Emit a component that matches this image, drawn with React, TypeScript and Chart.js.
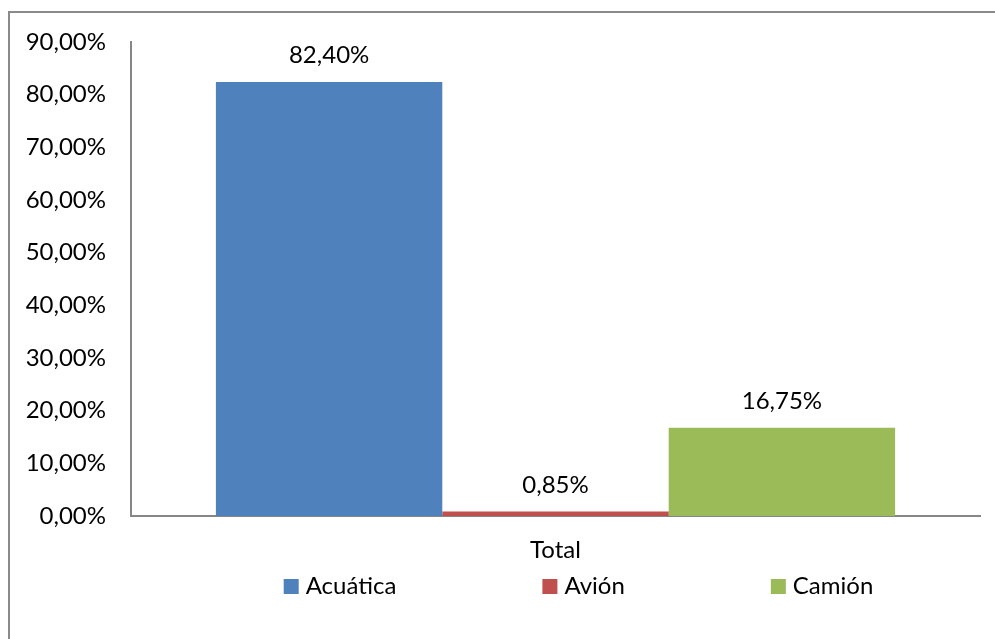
import React, { useEffect, useRef } from 'react';
import { Chart, registerables } from 'chart.js';

Chart.register(...registerables);

// ---- data ----
const categories = ['Total'];
const seriesNames = ['Acuática', 'Avión', 'Camión'];
const acuaticaValues = [82.4];
const avionValues = [0.85];
const camionValues = [16.75];
const seriesColors = ['#4F81BD', '#C0504D', '#9BBB59'];
const yMin = 0;
const yMax = 90;
const yStep = 10;

const FONT = "Lato, 'Noto Sans', sans-serif";
const FONT_SIZE = 24;
const AXIS_COLOR = '#868686';

const fmt = (v: number) => v.toFixed(2).replace('.', ',') + '%';

const valueLabelPlugin = {
  id: 'valueLabels',
  afterDatasetsDraw(chart: any) {
    const ctx = chart.ctx;
    ctx.save();
    ctx.font = `${FONT_SIZE}px ${FONT}`;
    ctx.fillStyle = '#000';
    ctx.textAlign = 'center';
    ctx.textBaseline = 'alphabetic';
    chart.data.datasets.forEach((ds: any, i: number) => {
      const meta = chart.getDatasetMeta(i);
      meta.data.forEach((el: any, j: number) => {
        const v = ds.data[j] as number;
        ctx.fillText(fmt(v), el.x, el.y - 19);
      });
    });
    ctx.restore();
  },
};

const customLegendPlugin = {
  id: 'customLegend',
  afterDraw(chart: any) {
    const ctx = chart.ctx;
    ctx.save();
    ctx.font = `${FONT_SIZE}px ${FONT}`;
    const box = 15;
    const textGap = 7;
    const itemGap = 146;
    const items = chart.data.datasets.map((ds: any) => {
      const tw = ctx.measureText(ds.label).width;
      return { text: ds.label, color: ds.backgroundColor, tw, w: box + textGap + tw };
    });
    const total =
      items.reduce((s: number, it: any) => s + it.w, 0) + itemGap * (items.length - 1);
    let x = chart.width / 2 - total / 2;
    const baseline = chart.chartArea.bottom + 78;
    ctx.textAlign = 'left';
    ctx.textBaseline = 'alphabetic';
    items.forEach((it: any) => {
      ctx.fillStyle = it.color;
      ctx.fillRect(x, baseline - box, box, box);
      ctx.fillStyle = '#000';
      ctx.fillText(it.text, x + box + textGap, baseline);
      x += it.w + itemGap;
    });
    ctx.restore();
  },
};

export default function App() {
  const ref = useRef<HTMLCanvasElement>(null);

  useEffect(() => {
    if (!ref.current) return;
    const seriesData = [acuaticaValues, avionValues, camionValues];
    const chart = new Chart(ref.current, {
      type: 'bar',
      data: {
        labels: categories,
        datasets: seriesNames.map((name, i) => ({
          label: name,
          data: seriesData[i],
          backgroundColor: seriesColors[i],
          borderWidth: 0,
          categoryPercentage: 0.8,
          barPercentage: 1,
        })),
      },
      options: {
        responsive: false,
        maintainAspectRatio: false,
        animation: false,
        layout: { padding: { left: 0, right: 167, top: 29, bottom: 137 } },
        plugins: {
          legend: { display: false },
          tooltip: { enabled: false },
          title: { display: false },
        },
        scales: {
          x: {
            grid: { display: false, drawTicks: false },
            border: { display: true, color: AXIS_COLOR, width: 2 },
            ticks: {
              color: '#000',
              font: { family: FONT, size: FONT_SIZE },
              padding: 20,
            },
            afterFit(scale: any) {
              scale.height = 60;
              scale.paddingLeft = 0;
              scale.paddingRight = 0;
            },
          },
          y: {
            min: yMin,
            max: yMax,
            grid: { display: false, drawTicks: false },
            border: { display: true, color: AXIS_COLOR, width: 2 },
            ticks: {
              stepSize: yStep,
              color: '#000',
              font: { family: FONT, size: FONT_SIZE },
              padding: 25,
              callback: (v: any) => fmt(Number(v)),
            },
            afterFit(scale: any) {
              scale.width = 121;
              scale.paddingTop = 0;
              scale.paddingBottom = 0;
            },
          },
        },
      },
      plugins: [valueLabelPlugin, customLegendPlugin],
    });
    return () => chart.destroy();
  }, []);

  return (
    <div style={{ position: 'fixed', inset: 0, overflow: 'hidden', background: '#fff' }}>
      <div
        style={{
          position: 'absolute',
          left: 8,
          top: 11,
          width: 1141,
          height: 704,
          border: `2px solid #8a8a8a`,
          boxSizing: 'border-box',
        }}
      >
        <canvas
          ref={ref}
          width={1137}
          height={700}
          style={{ display: 'block', width: 1137, height: 700 }}
        />
      </div>
    </div>
  );
}
